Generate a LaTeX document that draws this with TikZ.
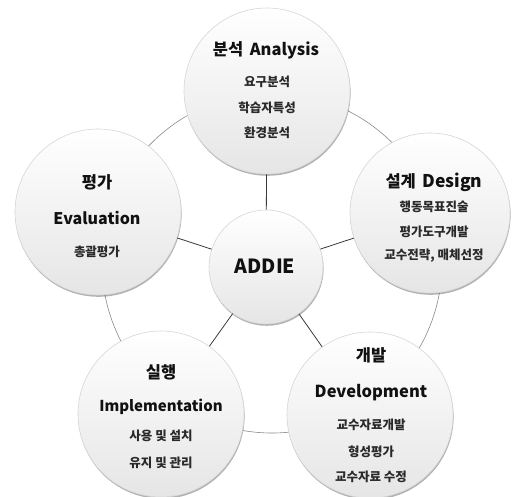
\documentclass[tikz,border=0pt]{standalone}
\usepackage{fontspec}
\setmainfont{Noto Sans CJK KR}
\usetikzlibrary{shadows}
\definecolor{txt}{HTML}{111111}
\definecolor{ringc}{HTML}{8A8A8A}
\definecolor{spokec}{HTML}{3A3A3A}
\newcommand{\krT}{\fontsize{16.5}{16.5}\selectfont}
\newcommand{\enT}[1]{\fontsize{#1}{#1}\selectfont}
\tikzset{
  bubble/.style={circle, minimum size=#1, inner sep=0pt, draw=gray!32, line width=0.6pt,
    top color=white, middle color=white, bottom color=gray!20,
    drop shadow={shadow xshift=0.6pt, shadow yshift=-1.8pt, opacity=0.3, fill=black}},
  ttl/.style={text=txt, font=\bfseries, inner sep=0pt},
  itm/.style={text=txt!90, font=\fontsize{12.5}{12.5}\selectfont\bfseries, inner sep=0pt},
  ringline/.style={draw=ringc, line width=0.6pt},
  spoke/.style={draw=spokec, line width=0.8pt}
}
\begin{document}
\begin{tikzpicture}[x=1pt,y=1pt]
\useasboundingbox (0,0) rectangle (512,-496);
\fill[white] (0,0) rectangle (512,-496);
\coordinate (rc) at (272,-263);
\draw[ringline] (rc) circle[radius=170];
% circles
\node[bubble=166pt] (ana) at (267,-91) {};
\node[bubble=160pt] (des) at (430,-213) {};
\node[bubble=166pt] (eva) at (98,-212) {};
\node[bubble=166pt] (imp) at (161,-414) {};
\node[bubble=166pt] (dev) at (370,-415) {};
\node[bubble=114pt] (addie) at (266,-267) {};
% spokes
\draw[spoke] (addie) -- (ana);
\draw[spoke] (addie) -- (des);
\draw[spoke] (addie) -- (eva);
\draw[spoke] (addie) -- (imp);
\draw[spoke] (addie) -- (dev);
% texts
\node[text=txt, font=\fontsize{19.5}{19.5}\selectfont\bfseries, inner sep=0pt] (addiet) at (265,-266) {ADDIE};
% Analysis
\node[ttl] (a0) at (266,-50) {\krT 분석\hspace{0.4em}\enT{16.5}Analysis};
\node[itm] (a1) at (267,-82) {요구분석};
\node[itm] (a2) at (267,-108) {학습자특성};
\node[itm] (a3) at (267,-133) {환경분석};
% Design
\node[ttl] (d0) at (434,-182) {\krT 설계\hspace{0.4em}\enT{17.5}Design};
\node[itm] (d1) at (434,-207) {행동목표진술};
\node[itm] (d2) at (434,-232) {평가도구개발};
\node[itm] (d3) at (434,-256) {교수전략, 매체선정};
% Evaluation
\node[ttl] (e0) at (97,-182) {\krT 평가};
\node[ttl] (e1) at (97,-218) {\enT{16}Evaluation};
\node[itm] (e2) at (97,-252) {총괄평가};
% Implementation
\node[ttl] (i0) at (161,-372) {\krT 실행};
\node[ttl] (i1) at (161,-407) {\enT{15}Implementation};
\node[itm] (i2) at (161,-436) {사용 및 설치};
\node[itm] (i3) at (161,-463) {유지 및 관리};
% Development
\node[ttl] (v0) at (371,-355) {\krT 개발};
\node[ttl] (v1) at (371,-393) {\enT{16.5}Development};
\node[itm] (v2) at (371,-425) {교수자료개발};
\node[itm] (v3) at (371,-452) {형성평가};
\node[itm] (v4) at (371,-477) {교수자료 수정};
\end{tikzpicture}
\end{document}
